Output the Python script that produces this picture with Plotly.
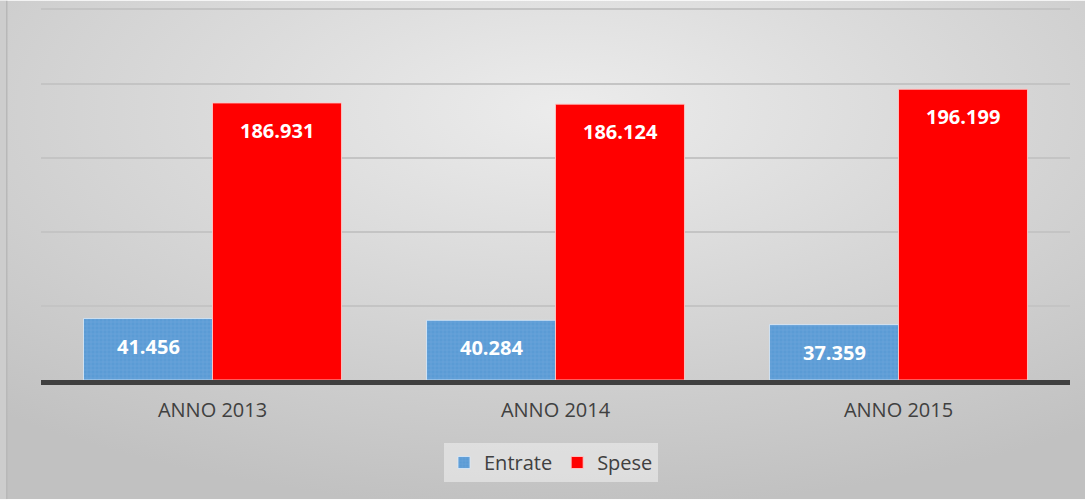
import base64
import plotly.graph_objects as go

categories = ["ANNO 2013", "ANNO 2014", "ANNO 2015"]
entrate = [41456, 40284, 37359]
spese = [186931, 186124, 196199]
series_names = ["Entrate", "Spese"]

W, H = 1085, 500
ML, MR, MT, MB = 41, 15, 7.5, 119.5
pw, ph = W - ML - MR, H - MT - MB

def fmt(v):
    return f"{v:,}".replace(",", ".")

svg = (
    f'<svg xmlns="http://www.w3.org/2000/svg" width="{W}" height="{H}" preserveAspectRatio="none">'
    '<defs><radialGradient id="g" cx="52%" cy="22%" r="80%">'
    '<stop offset="0" stop-color="#ececec"/><stop offset="1" stop-color="#c1c1c1"/>'
    '</radialGradient></defs>'
    f'<rect width="{W}" height="{H}" fill="url(#g)"/>'
    f'<rect x="0" y="0" width="6" height="{H}" fill="#cdcdcd"/>'
    f'<rect x="6" y="0" width="1.5" height="{H}" fill="#b8b8b8"/>'
    '</svg>'
)
src = "data:image/svg+xml;base64," + base64.b64encode(svg.encode()).decode()

fig = go.Figure()
fig.add_trace(go.Bar(
    x=categories, y=entrate, name=series_names[0],
    marker=dict(color="#5b9bd5",
                line=dict(color="rgba(220,235,250,0.8)", width=1),
                pattern=dict(shape="+", fgcolor="#8fbbe6", size=4, solidity=0.2)),
))
fig.add_trace(go.Bar(
    x=categories, y=spese, name=series_names[1],
    marker=dict(color="#ff0000", line=dict(color="rgba(255,200,200,0.9)", width=1)),
))

annotations = []
for vals, shift in ((entrate, -64.5), (spese, 64.5)):
    for c, v in zip(categories, vals):
        annotations.append(dict(
            x=c, y=v, xref="x", yref="y", text=fmt(v), showarrow=False,
            xshift=shift, yshift=-27.5, yanchor="middle",
            font=dict(family="Open Sans", size=20, color="white", weight="bold"),
        ))

fig.update_layout(
    width=W, height=H,
    margin=dict(l=ML, r=MR, t=MT, b=MB, autoexpand=False),
    paper_bgcolor="rgba(0,0,0,0)", plot_bgcolor="rgba(0,0,0,0)",
    barmode="group", bargap=0.248, bargroupgap=0,
    font=dict(family="Open Sans", color="#404040"),
    images=[dict(source=src, xref="paper", yref="paper",
                 x=-ML / pw, y=1 + MT / ph, sizex=W / pw, sizey=H / ph,
                 xanchor="left", yanchor="top", sizing="stretch", layer="below")],
    annotations=annotations,
    showlegend=True,
    legend=dict(orientation="h", xref="container", yref="container",
                x=551 / W, y=1 - 443 / H, xanchor="center", yanchor="top",
                bgcolor="rgba(232,232,232,0.7)", borderwidth=0,
                font=dict(family="Open Sans", size=20, color="#404040"),
                itemwidth=30, traceorder="normal"),
    xaxis=dict(showline=True, linecolor="#404040", linewidth=4.5,
               ticks="", tickfont=dict(family="Open Sans", size=20, color="#404040"),
               ticklabelstandoff=8, showgrid=False, automargin=False),
    yaxis=dict(range=[0, 251000], tick0=0, dtick=50000, showticklabels=False,
               showgrid=True, gridcolor="#c4c4c4", gridwidth=1.6,
               zeroline=False, ticks="", automargin=False),
)

fig.write_html("out.html", config={"displayModeBar": False},
               post_script="document.body.style.margin='0';")
